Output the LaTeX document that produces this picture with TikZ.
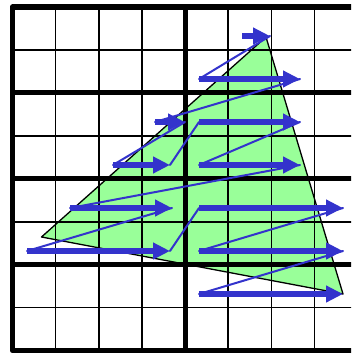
\documentclass[tikz,border=0pt]{standalone}
\usetikzlibrary{arrows.meta}
\definecolor{trigreen}{RGB}{153,255,153}
\definecolor{scanblue}{RGB}{51,51,204}
\tikzset{
  thinline/.style={line width=1.6pt, black},
  thickline/.style={line width=5pt, black},
  borderline/.style={line width=5.5pt, black, line join=round},
  trioutline/.style={line width=1.3pt, black, line join=round},
  scanarrow/.style={scanblue, line width=5.5pt, -{Triangle[length=17pt,width=16pt]}},
  jumpline/.style={scanblue, line width=2pt, line cap=round, line join=round},
}
\begin{document}
\begin{tikzpicture}[x=1pt,y=-1pt]
\useasboundingbox (0,0) rectangle (351,353);
\clip (0,0) rectangle (351,353);
\fill[white] (0,0) rectangle (351,353);
% triangle
\coordinate (A) at (41.5,237);
\coordinate (B) at (266,37);
\coordinate (C) at (343,294);
\fill[trigreen] (A) -- (B) -- (C) -- cycle;
% grid
\foreach \i in {1,2,3,5,6,7}
  \draw[thinline] ({12.5+43.15*\i},7) -- ({12.5+43.15*\i},350.5);
\foreach \j in {1,3,5,7}
  \draw[thinline] (12.5,{7+42.94*\j}) -- (365,{7+42.94*\j});
\foreach \j in {2,4,6}
  \draw[thickline] (12.5,{7+42.94*\j}) -- (365,{7+42.94*\j});
\draw[thickline] (185.1,7) -- (185.1,350.5);
\draw[borderline] (365,7) -- (12.5,7) -- (12.5,350.5) -- (365,350.5);
\draw[trioutline] (A) -- (B) -- (C) -- cycle;
% scan arrows
\coordinate (s1) at (242,36);  \coordinate (e1) at (270,36);
\coordinate (s2) at (199,79);  \coordinate (e2) at (300,79);
\coordinate (s3) at (155,122); \coordinate (e3) at (185,122);
\coordinate (s4) at (113,165); \coordinate (e4) at (170,165);
\coordinate (s5) at (199,122); \coordinate (e5) at (300,122);
\coordinate (s6) at (199,165); \coordinate (e6) at (300,165);
\coordinate (s7) at (70,208);  \coordinate (e7) at (172,208);
\coordinate (s8) at (27,251);  \coordinate (e8) at (170,251);
\coordinate (s9) at (199,208); \coordinate (e9) at (343,208);
\coordinate (s10) at (199,251); \coordinate (e10) at (343,251);
\coordinate (s11) at (199,294); \coordinate (e11) at (343,294);
\foreach \a/\b in {e1/s2,e2/s3,e3/s4,e4/s5,e5/s6,e6/s7,e7/s8,e8/s9,e9/s10,e10/s11}
  \draw[jumpline] (\a) -- (\b);
\foreach \k in {1,...,11}
  \draw[scanarrow] (s\k) -- (e\k);
\end{tikzpicture}
\end{document}
